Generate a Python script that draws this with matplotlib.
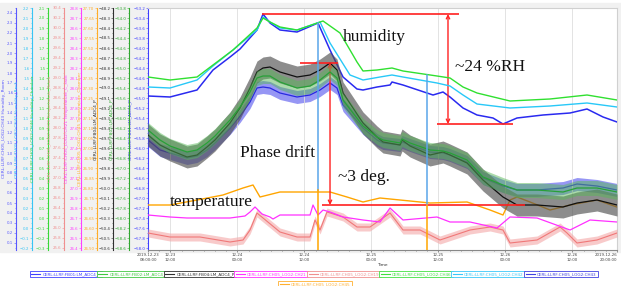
import matplotlib
matplotlib.use("Agg")
import numpy as np
import matplotlib.pyplot as plt
from matplotlib.patches import Rectangle
from matplotlib.lines import Line2D
from matplotlib.ticker import MultipleLocator, AutoMinorLocator

plt.rcParams['axes.formatter.useoffset'] = False

# time axis: hours after 2019-12-23 08:00
tick_hours = [0, 4, 16, 28, 40, 52, 64, 76, 84]
tick_labels = ["2019-12-23\n08:00:00", "12-23\n12:00", "12-24\n00:00", "12-24\n12:00",
               "12-25\n00:00", "12-25\n12:00", "12-26\n00:00", "12-26\n12:00",
               "2019-12-26\n20:00:00"]

# humidity (CH43 room, CH42 rack, CH46 chamber)
hum_room_t = [0, 3.94, 8.78, 11.64, 14.69, 16.48, 19.52, 20.6, 21.85, 23.64, 26.69, 30.45, 32.6,
              34.93, 37.43, 38.51, 41.02, 43.35, 43.7, 45.67, 51.05, 52.84, 54.09, 56.42, 58.93,
              61.79, 63.58, 66.09, 70.75, 75.59, 78.63, 81.5, 84.0]
hum_room = [1.57, 1.56, 1.63, 1.83, 1.96, 2.04, 2.23, 2.39, 2.30, 2.23, 2.21, 2.30, 2.03,
            1.76, 1.64, 1.63, 1.66, 1.68, 1.71, 1.68, 1.58, 1.61, 1.56, 1.45, 1.38,
            1.35, 1.29, 1.35, 1.38, 1.40, 1.44, 1.36, 1.31]

hum_rack_t = [0, 3.94, 8.78, 11.64, 15.22, 19.52, 20.6, 21.85, 23.64, 26.69, 30.81, 32.6, 36.18,
              38.51, 41.55, 43.7, 45.67, 51.76, 54.09, 56.42, 58.93, 64.84, 72.0, 78.63, 84.0]
hum_rack = [1.41, 1.40, 1.48, 1.62, 1.78, 1.98, 2.11, 2.06, 2.00, 1.98, 2.06, 1.85, 1.53,
            1.48, 1.51, 1.53, 1.51, 1.45, 1.42, 1.33, 1.24, 1.20, 1.22, 1.25, 1.21]

hum_chamber_t = [0, 3.94, 8.78, 11.64, 15.22, 19.52, 20.6, 21.85, 23.64, 26.69, 31.35, 34.39, 36.18,
                 37.43, 38.51, 41.02, 43.7, 45.67, 51.76, 54.09, 56.42, 58.93, 64.84, 72.0, 78.63, 84.0]
hum_chamber = [1.41, 1.38, 1.41, 1.53, 1.68, 1.90, 2.00, 1.96, 1.91, 1.88, 1.97, 1.85, 1.68,
               1.56, 1.47, 1.48, 1.50, 1.47, 1.42, 1.40, 1.31, 1.25, 1.17, 1.19, 1.23, 1.18]

# temperatures (CH19 room, CH21 rack, CH45 chamber)
temp_room_t = [0, 3.94, 9.31, 14.69, 17.02, 18.27, 19.52, 20.6, 23.64, 26.69, 29.02, 29.91, 30.81,
               32.06, 34.93, 37.43, 39.76, 43.35, 45.67, 48.72, 52.3, 57.67, 61.26, 63.58, 64.84,
               69.68, 73.8, 75.05, 76.84, 80.42, 84.0]
temp_room = [25.90, 25.82, 25.82, 25.72, 25.76, 25.96, 26.30, 26.20, 25.92, 25.82, 25.82, 26.16, 25.96,
             26.32, 26.22, 26.02, 26.02, 26.30, 25.96, 25.96, 25.76, 25.96, 26.02, 25.96, 25.70,
             25.76, 26.02, 25.90, 25.70, 25.76, 25.90]
temp_room_spread = 0.08

temp_rack_t = [0, 3.94, 6.99, 14.69, 17.37, 18.27, 19.17, 20.42, 21.85, 22.39, 23.64, 29.02, 29.55,
               30.45, 31.35, 32.6, 34.93, 38.51, 41.55, 43.35, 45.67, 51.76, 54.09, 57.67, 62.51,
               64.84, 69.68, 75.59, 79.17, 84.0]
temp_rack = [26.73, 26.71, 26.70, 26.70, 26.72, 26.76, 26.81, 26.74, 26.71, 26.69, 26.73, 26.73, 26.83,
             26.73, 26.78, 26.76, 26.71, 26.68, 26.66, 26.80, 26.68, 26.71, 26.66, 26.66, 26.60,
             26.71, 26.70, 26.58, 26.68, 26.66]

temp_chamber_t = [0, 3.94, 8.78, 13.43, 17.02, 18.81, 20.06, 23.64, 26.69, 30.27, 32.6, 35.64, 38.51,
                  41.55, 45.14, 50.51, 57.14, 61.26, 63.58, 64.84, 66.09, 68.42, 72.0, 75.59, 80.42, 84.0]
temp_chamber = [26.715, 26.715, 26.74, 26.765, 26.80, 26.815, 26.755, 26.78, 26.78, 26.78, 26.78, 26.755, 26.73,
                26.75, 26.74, 26.725, 26.73, 26.69, 26.665, 26.74, 26.755, 26.73, 26.69, 26.715, 26.74, 26.705]

# cavity phases (FB04, FB02, FB01 ADC4_P), deg
phase_t = [0, 2.15, 3.94, 6.99, 8.78, 10.57, 12.0, 14.69, 16.48, 18.27, 19.52, 20.6, 21.85, 23.64,
           26.69, 29.02, 30.81, 32.6, 33.85, 34.93, 38.51, 41.02, 42.09, 45.14, 45.5, 46.93, 50.51,
           52.84, 54.09, 57.14, 60.0, 63.58, 66.09, 69.68, 74.33, 76.84, 80.42, 84.0]
phase_fb04 = [-49.47, -49.57, -49.62, -49.69, -49.67, -49.59, -49.52, -49.35, -49.20, -49.00, -48.84,
              -48.80, -48.79, -48.84, -48.89, -48.87, -48.82, -48.75, -48.82, -49.05, -49.35, -49.49,
              -49.54, -49.57, -49.52, -49.58, -49.67, -49.64, -49.67, -49.75, -49.92, -50.09, -50.17,
              -50.17, -50.19, -50.15, -50.12, -50.17]
phase_fb02 = [-56.24, -56.44, -56.56, -56.68, -56.64, -56.50, -56.36, -56.04, -55.78, -55.48, -55.20,
              -55.16, -55.16, -55.28, -55.40, -55.36, -55.24, -55.08, -55.20, -55.64, -56.16, -56.38,
              -56.44, -56.50, -56.42, -56.50, -56.64, -56.66, -56.70, -56.84, -57.18, -57.34, -57.44,
              -57.44, -57.48, -57.40, -57.40, -57.48]
phase_fb01 = [-55.84, -56.04, -56.10, -56.20, -56.16, -56.04, -55.90, -55.60, -55.36, -55.08, -54.80,
              -54.78, -54.80, -54.90, -54.98, -54.94, -54.84, -54.70, -54.80, -55.14, -55.60, -55.84,
              -55.90, -55.94, -55.88, -55.94, -56.08, -56.10, -56.14, -56.28, -56.60, -56.76, -56.84,
              -56.84, -56.80, -56.72, -56.76, -56.84]
phase_fb04_spread = 0.11
phase_fb02_spread = 0.15
phase_fb01_spread = 0.13

# cursor times and the marked spans
cursor_hours = [30.45, 49.97]
rh_max, rh_min = 2.39, 1.29
ph_max, ph_min = -48.75, -50.17

W, H = 621, 286
X0, X1, Y0, Y1 = 148, 617, 8, 250

fig = plt.figure(figsize=(W / 100, H / 100), dpi=100)
fig.patches.append(Rectangle((0, 1 - 252 / H), 1, 249 / H, transform=fig.transFigure,
                             color='#f1f1f1', zorder=-10))
ax = fig.add_axes([X0 / W, 1 - Y1 / H, (X1 - X0) / W, (Y1 - Y0) / H])
ax.set_facecolor('white')

# label, colour, top, bottom, major step, spine x in px
axis_specs = [
    ("CERL:LLRF:CH05_LOG2:CH43 Humidity_Room", "#5858ff", 2.45, 0.03, 0.1, 16),
    ("CERL:LLRF:CH05_LOG2:CH42 Humidity_Rack", "#38c4f4", 2.2, -0.22, 0.1, 32),
    ("CERL:LLRF:CH05_LOG2:CH46 Humidity_Chamber", "#38d838", 2.1, -0.32, 0.1, 48),
    ("CERL:LLRF:CH05_LOG2:CH19 Temperature_Room", "#f09090", 30.4, 25.56, 0.2, 64),
    ("CERL:LLRF:CH05_LOG2:CH21 Temperature_C_rack", "#ff40ff", 28.8, 26.38, 0.1, 81),
    ("CERL:LLRF:CH05_LOG2:CH45 Temperature_Chamber", "#ffac28", 27.7, 26.49, 0.05, 97),
    ("CERL:LLRF:FB04:LM_ADC4_P", "#303030", -48.2, -50.62, 0.1, 113),
    ("CERL:LLRF:FB02:LM_ADC4_P", "#30a830", -53.8, -58.64, 0.2, 129),
    ("CERL:LLRF:FB01:LM_ADC4_P", "#4040ff", -53.2, -58.04, 0.2, 148),
]


def style_axis(a, label, color, top, bottom, step, xpx):
    a.set_ylim(bottom, top)
    a.yaxis.set_ticks_position('left')
    a.yaxis.set_label_position('left')
    a.spines['left'].set_position(('axes', (xpx - X0) / (X1 - X0)))
    a.spines['left'].set_color(color)
    a.spines['left'].set_linewidth(0.8)
    a.yaxis.set_major_locator(MultipleLocator(step))
    a.yaxis.set_minor_locator(AutoMinorLocator(2))
    a.tick_params(axis='y', which='both', colors=color, labelsize=2.8, length=1.4,
                  width=0.4, pad=0.6)
    a.tick_params(axis='y', which='minor', length=0.8)
    a.set_ylabel(label, color=color, fontsize=3.2, labelpad=0.6)


axes = []
for spec in axis_specs[:-1]:
    tw = ax.twinx()
    for s in ('right', 'top', 'bottom'):
        tw.spines[s].set_visible(False)
    style_axis(tw, *spec)
    axes.append(tw)
style_axis(ax, *axis_specs[-1])
axes.append(ax)
for s in ('top', 'right'):
    ax.spines[s].set_color('#d0d0d0')
ax.spines['bottom'].set_color('#888888')

a_hroom, a_hrack, a_hch, a_troom, a_track, a_tch, a_fb04, a_fb02, a_fb01 = axes

ax.set_xlim(0, 84)
ax.set_xticks(tick_hours)
ax.set_xticklabels(tick_labels)
ax.get_xticklabels()[-1].set_ha('right')
ax.xaxis.set_minor_locator(MultipleLocator(2))
ax.tick_params(axis='x', which='both', labelsize=2.8, length=1.4, width=0.4, pad=1,
               colors='#444444')
ax.tick_params(axis='x', which='minor', length=0.8)
ax.grid(axis='x', color='#dedede', lw=0.6)
ax.set_xlabel('Time', fontsize=3.2, labelpad=1, color='#333333')

# phase bands and lines
p04, p02, p01 = np.array(phase_fb04), np.array(phase_fb02), np.array(phase_fb01)
a_fb01.fill_between(phase_t, p01 - phase_fb01_spread, p01 + phase_fb01_spread,
                    color='#6a6af0', alpha=0.7, lw=0)
a_fb01.plot(phase_t, p01, color='#2828e0', lw=0.9)
a_fb04.fill_between(phase_t, p04 - phase_fb04_spread, p04 + phase_fb04_spread,
                    color='#505050', alpha=0.65, lw=0)
a_fb04.plot(phase_t, p04, color='#101010', lw=0.9)
a_fb02.fill_between(phase_t, p02 - phase_fb02_spread, p02 + phase_fb02_spread,
                    color='#58b858', alpha=0.5, lw=0)
a_fb02.plot(phase_t, p02, color='#28a038', lw=0.9)

# humidity
a_hroom.plot(hum_room_t, hum_room, color='#2a2af0', lw=1.1)
a_hrack.plot(hum_rack_t, hum_rack, color='#28c8f8', lw=1.0)
a_hch.plot(hum_chamber_t, hum_chamber, color='#30e030', lw=1.0)

# temperatures
tr = np.array(temp_room)
a_troom.fill_between(temp_room_t, tr - temp_room_spread, tr + temp_room_spread,
                     color='#f4a8a8', alpha=0.6, lw=0)
a_troom.plot(temp_room_t, temp_room, color='#f07878', lw=0.8)
a_track.plot(temp_rack_t, temp_rack, color='#ff30ff', lw=0.9)
a_tch.plot(temp_chamber_t, temp_chamber, color='#ffa500', lw=1.0)

# cursors
a_fb02.axvline(cursor_hours[0], ymin=0.248, ymax=0.938, color='#5aa6ea', lw=1.1)
a_fb02.axvline(cursor_hours[0], ymin=0, ymax=0.248, color='#ffa500', lw=1.1)
a_fb02.axvline(cursor_hours[1], ymin=0.186, ymax=0.723, color='#5aa6ea', lw=1.1)
a_fb02.axvline(cursor_hours[1], ymin=0, ymax=0.186, color='#ffa500', lw=1.1)

red = '#ff2020'
arrow = dict(arrowstyle='<->', color=red, lw=1.0, shrinkA=0, shrinkB=0, mutation_scale=6)
a_hroom.hlines(rh_max, 20.42, 55.7, color=red, lw=1.2)
a_hroom.hlines(rh_min, 51.76, 65.38, color=red, lw=1.2)
a_hroom.annotate('', xy=(53.73, rh_min), xytext=(53.73, rh_max), arrowprops=arrow)
a_fb04.hlines(ph_max, 27.23, 34.03, color=red, lw=1.2)
a_fb04.hlines(ph_min, 31.17, 67.53, color=red, lw=1.2)
a_fb04.annotate('', xy=(32.6, ph_min), xytext=(32.6, ph_max), arrowprops=arrow)

serif = ['Liberation Serif', 'DejaVu Serif']
for txt, px, py in [("humidity", 343, 37), ("~24 %RH", 455, 67), ("Phase drift", 240, 153),
                    ("~3 deg.", 338, 177), ("temperature", 170, 202)]:
    fig.text(px / W, 1 - py / H, txt, family=serif, fontsize=12.5, va='center', ha='left',
             color='#111111')

# one framed legend box per channel
legend_items = [
    ("CERL:LLRF:FB01:LM_ADC4_P", "#4040ff", 66, 274),
    ("CERL:LLRF:FB02:LM_ADC4_P", "#40c840", 133, 274),
    ("CERL:LLRF:FB04:LM_ADC4_P", "#303030", 200, 274),
    ("CERL:LLRF:CH05_LOG2:CH21", "#ff30ff", 271, 274),
    ("CERL:LLRF:CH05_LOG2:CH19", "#f09090", 344, 274),
    ("CERL:LLRF:CH05_LOG2:CH46", "#40e040", 416, 274),
    ("CERL:LLRF:CH05_LOG2:CH42", "#38c8f8", 488, 274),
    ("CERL:LLRF:CH05_LOG2:CH43", "#4040e0", 561, 274),
    ("CERL:LLRF:CH05_LOG2:CH45", "#ffb030", 315, 284),
]
for label, col, cx, cy in legend_items:
    h = Line2D([], [], color=col, lw=0.8)
    leg = fig.legend(handles=[h], labels=[label], loc='center',
                     bbox_to_anchor=(cx / W, 1 - cy / H), fontsize=3.0, frameon=True,
                     fancybox=False, borderpad=0.35, handlelength=2.2, handletextpad=0.5,
                     labelcolor=col, framealpha=1)
    leg.get_frame().set_edgecolor(col)
    leg.get_frame().set_linewidth(0.6)

fig.savefig('out.png', dpi=100)
